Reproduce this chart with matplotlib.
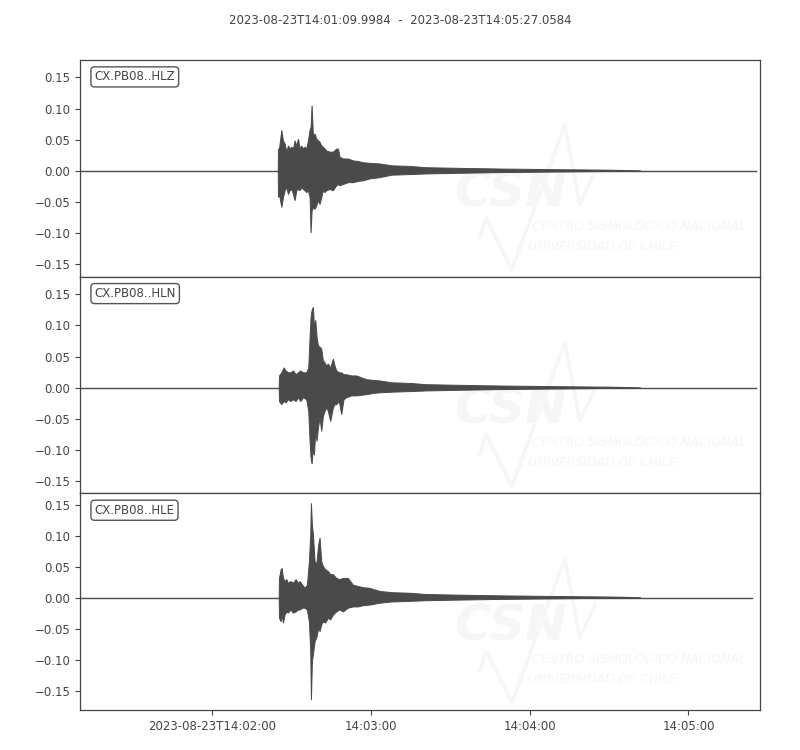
import matplotlib
matplotlib.use("Agg")
import matplotlib.pyplot as plt
import numpy as np

# ---- data (seconds since 2023-08-23T14:01:09.9984) ----
title_text = "2023-08-23T14:01:09.9984  -  2023-08-23T14:05:27.0584"
trace_ids = ["CX.PB08..HLZ", "CX.PB08..HLN", "CX.PB08..HLE"]
trace_end = [255.5, 255.5, 254.0]
total_span = 257.06

tail_t = [118, 125, 131, 143, 160, 186, 200, 212]
tail_up = [0.008, 0.007, 0.005, 0.004, 0.0028, 0.0016, 0.001, 0]
tail_lo = [-0.007, -0.006, -0.005, -0.004, -0.0028, -0.0016, -0.001, 0]

# HLZ envelope (upper / lower extremes)
z_t = [74.95, 75.03, 75.41, 76.29, 76.92, 77.55, 78.18, 78.80, 79.43, 80.06, 80.69, 81.32, 81.95,
       82.58, 83.21, 83.84, 84.46, 85.09, 85.72, 86.35, 86.98, 87.36, 87.74, 88.24, 88.87, 89.50,
       90.12, 90.75, 91.38, 92.01, 92.64, 93.27, 94.53, 95.79, 97.04, 97.67, 98.30, 99.56, 101.45,
       103.33, 105.22, 107.11, 109.62, 113.40] + tail_t
z_up = [0, 0.035, 0.035, 0.065, 0.048, 0.043, 0.030, 0.040, 0.035, 0.038, 0.035, 0.048, 0.040,
        0.051, 0.035, 0.040, 0.035, 0.038, 0.035, 0.048, 0.065, 0.070, 0.105, 0.056, 0.059, 0.051,
        0.048, 0.046, 0.040, 0.038, 0.035, 0.032, 0.030, 0.030, 0.035, 0.035, 0.022, 0.019, 0.019,
        0.016, 0.015, 0.013, 0.012, 0.011] + tail_up
z_lo = [0, -0.043, -0.038, -0.059, -0.043, -0.032, -0.027, -0.038, -0.032, -0.030, -0.038, -0.048, -0.032,
        -0.030, -0.032, -0.027, -0.030, -0.032, -0.035, -0.032, -0.043, -0.100, -0.065, -0.059, -0.062, -0.056,
        -0.048, -0.054, -0.043, -0.032, -0.035, -0.032, -0.030, -0.032, -0.024, -0.022, -0.024, -0.022, -0.019,
        -0.019, -0.017, -0.016, -0.013, -0.011] + tail_lo

# HLN envelope
n_t = [75.3, 75.41, 76.29, 77.17, 77.92, 78.80, 79.69, 80.69, 81.70, 82.58, 83.46, 84.46, 85.72,
       86.48, 86.98, 87.36, 87.74, 88.24, 88.62, 89.12, 89.62, 90.12, 90.75, 91.38, 92.01, 92.64,
       93.27, 93.90, 94.78, 95.79, 96.42, 97.04, 98.05, 98.93, 99.81, 100.82, 102.71, 104.59,
       106.48, 108.37, 110.88, 113.40] + tail_t
n_up = [0, 0.019, 0.024, 0.032, 0.027, 0.024, 0.024, 0.027, 0.021, 0.024, 0.027, 0.024, 0.024,
        0.032, 0.081, 0.113, 0.124, 0.129, 0.097, 0.108, 0.081, 0.067, 0.065, 0.062, 0.043, 0.040,
        0.035, 0.038, 0.032, 0.046, 0.035, 0.027, 0.024, 0.024, 0.021, 0.021, 0.019, 0.019,
        0.016, 0.013, 0.012, 0.011] + tail_up
n_lo = [0, -0.022, -0.027, -0.022, -0.024, -0.019, -0.022, -0.019, -0.022, -0.016, -0.022, -0.016, -0.019,
        -0.038, -0.086, -0.113, -0.122, -0.097, -0.108, -0.070, -0.086, -0.065, -0.048, -0.070, -0.046, -0.038,
        -0.032, -0.038, -0.054, -0.032, -0.027, -0.027, -0.022, -0.043, -0.019, -0.016, -0.013, -0.013,
        -0.012, -0.011, -0.009, -0.008] + tail_lo

# HLE envelope
e_t = [75.3, 75.41, 76.04, 76.42, 76.92, 77.55, 78.18, 78.80, 79.69, 80.69, 81.70, 82.58, 83.21,
       84.21, 85.09, 85.97, 86.73, 87.23, 87.48, 87.86, 88.24, 88.87, 89.50, 90.25, 90.75, 91.38,
       92.01, 92.89, 93.90, 94.78, 95.79, 97.04, 98.30, 99.56, 101.45, 103.33, 105.22, 107.11,
       109.62, 113.40] + tail_t
e_up = [0, 0.031, 0.045, 0.047, 0.031, 0.026, 0.029, 0.023, 0.026, 0.023, 0.029, 0.023, 0.026,
        0.020, 0.015, 0.020, 0.058, 0.101, 0.152, 0.117, 0.101, 0.058, 0.053, 0.085, 0.096, 0.058,
        0.050, 0.045, 0.042, 0.037, 0.037, 0.031, 0.029, 0.031, 0.031, 0.020, 0.018, 0.016,
        0.015, 0.010] + tail_up
e_lo = [0, -0.033, -0.039, -0.028, -0.041, -0.028, -0.023, -0.025, -0.020, -0.025, -0.023, -0.020, -0.020,
        -0.017, -0.017, -0.020, -0.039, -0.087, -0.165, -0.103, -0.092, -0.071, -0.065, -0.049, -0.055, -0.044,
        -0.039, -0.041, -0.033, -0.036, -0.028, -0.023, -0.020, -0.023, -0.017, -0.015, -0.015, -0.013,
        -0.012, -0.009] + tail_lo

tick_secs = [50.0016, 110.0016, 170.0016, 230.0016]
tick_labels = ["2023-08-23T14:02:00", "14:03:00", "14:04:00", "14:05:00"]
ytick_vals = [-0.15, -0.10, -0.05, 0.00, 0.05, 0.10, 0.15]
ylims = [(-0.170, 0.178), (-0.169, 0.178), (-0.181, 0.168)]

envelopes = [(z_t, z_up, z_lo), (n_t, n_up, n_lo), (e_t, e_up, e_lo)]

# ---- style ----
trace_col = "#4a4a4a"
text_col = "#444444"
wm_col = "#f6f6f6"
plt.rcParams["font.family"] = ["DejaVu Sans"]
plt.rcParams["font.size"] = 8.5

fig = plt.figure(figsize=(8, 7.5), dpi=100)
left, right, top, bottom = 0.1, 0.95, 0.92, 1 - 710 / 750
h = (top - bottom) / 3
axes = [fig.add_axes([left, top - (i + 1) * h, right - left, h]) for i in range(3)]

for i, ax in enumerate(axes):
    t, up, lo = envelopes[i]
    # faint watermark
    ax.text(0.551, 0.323, "CSN", transform=ax.transAxes, fontsize=36, fontweight="bold",
            fontstyle="italic", color=wm_col, zorder=0)
    ax.text(0.665, 0.217, "CENTRO SISMOLÓGICO NACIONAL", transform=ax.transAxes, fontsize=9,
            fontstyle="italic", color=wm_col, zorder=0)
    ax.text(0.659, 0.124, "UNIVERSIDAD DE CHILE", transform=ax.transAxes, fontsize=9,
            fontstyle="italic", color=wm_col, zorder=0)
    wx = [0.588, 0.597, 0.635, 0.713, 0.735, 0.757]
    wy = [0.180, 0.272, 0.032, 0.700, 0.332, 0.484]
    ax.plot(wx, wy, transform=ax.transAxes, color=wm_col, lw=2.5, zorder=0)

    # trace: flat baseline + envelope of the oscillation
    ax.plot([0, trace_end[i]], [0, 0], color=trace_col, lw=1.0, zorder=2)
    ax.fill(np.concatenate([t, t[::-1]]), np.concatenate([up, lo[::-1]]),
            facecolor=trace_col, edgecolor=trace_col, lw=0.7, zorder=3)

    ax.set_xlim(0, total_span)
    ax.set_ylim(*ylims[i])
    ax.set_yticks(ytick_vals)
    ax.set_yticklabels([f"{v:.2f}".replace("-", "\u2212") for v in ytick_vals])
    ax.tick_params(axis="y", colors=text_col, labelcolor=text_col, length=3.5, width=0.8)
    for s in ax.spines.values():
        s.set_color(text_col)
        s.set_linewidth(0.9)
    if i < 2:
        ax.set_xticks([])
    else:
        ax.set_xticks(tick_secs)
        ax.set_xticklabels(tick_labels)
        ax.tick_params(axis="x", colors=text_col, labelcolor=text_col, length=3.5, width=0.8)
    ax.text(0.0213, 0.952, trace_ids[i], transform=ax.transAxes, ha="left", va="top",
            color=text_col, fontsize=8.5, zorder=5,
            bbox=dict(boxstyle="round,pad=0.3", facecolor="white", edgecolor="#555555", lw=1.0))

fig.text(0.5, 1 - 20 / 750, title_text, ha="center", va="center", color=text_col, fontsize=8.5)
fig.savefig("out.png", dpi=100)
